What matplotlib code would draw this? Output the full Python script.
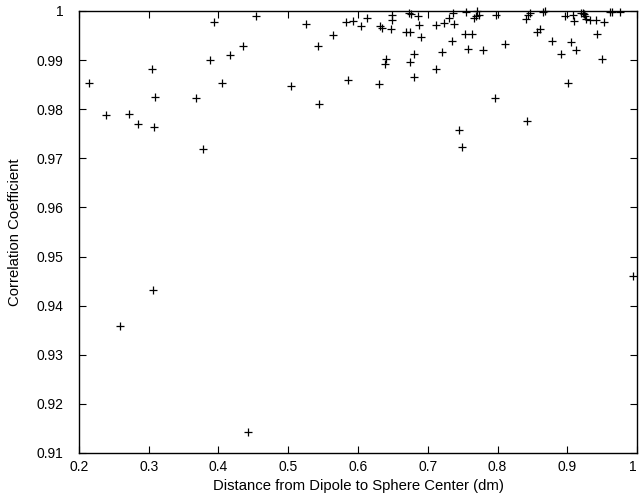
import matplotlib

matplotlib.use("Agg")

import matplotlib.pyplot as plt
from matplotlib.ticker import FormatStrFormatter, MultipleLocator

# distance from dipole to sphere center (dm)
distance = [
    0.2146, 0.2393, 0.2723, 0.2842, 0.3052, 0.3085, 0.3075, 0.3677, 0.3774, 0.3874,
    0.3931, 0.4046, 0.4171, 0.4357, 0.4541, 0.5257, 0.5427, 0.5642, 0.5035, 0.5850,
    0.5434, 0.5827, 0.5931, 0.6036, 0.6135, 0.6301, 0.6318, 0.6340, 0.6397, 0.6386,
    0.6483, 0.6493, 0.6476, 0.6688, 0.6746, 0.6736, 0.6758, 0.6803, 0.6748, 0.6801,
    0.6867, 0.6873, 0.6896, 0.7114, 0.7117, 0.7200, 0.7232, 0.7308, 0.7365, 0.7378,
    0.7341, 0.7554, 0.7534, 0.7633, 0.7577, 0.7663, 0.7695, 0.7713, 0.7733, 0.7792,
    0.7981, 0.8113, 0.7963, 0.7451, 0.7491, 0.8409, 0.8430, 0.8462, 0.8566, 0.8612,
    0.8423, 0.8652, 0.8677, 0.8777, 0.8906, 0.8963, 0.9060, 0.9088, 0.9093, 0.9121,
    0.9011, 0.9190, 0.9222, 0.9243, 0.9260, 0.9275, 0.9329, 0.9412, 0.9526, 0.9425,
    0.9497, 0.9609, 0.9644, 0.9752, 0.9943, 0.3061, 0.2594, 0.4423,
]

correlation = [
    0.98528, 0.97876, 0.97897, 0.97693, 0.98813, 0.98249, 0.97638, 0.98228, 0.97196, 0.98996,
    0.99776, 0.98534, 0.99098, 0.99281, 0.99892, 0.99735, 0.99287, 0.99501, 0.98473, 0.98599,
    0.98096, 0.99776, 0.99802, 0.99688, 0.99864, 0.98503, 0.99688, 0.99654, 0.99023, 0.98915,
    0.99807, 0.99919, 0.99629, 0.99562, 0.99576, 0.99953, 0.99929, 0.99120, 0.98968, 0.98652,
    0.99892, 0.99719, 0.99475, 0.98825, 0.99719, 0.99171, 0.99764, 0.99851, 0.99969, 0.99729,
    0.99379, 0.99980, 0.99526, 0.99526, 0.99236, 0.99851, 0.99898, 0.99996, 0.99925, 0.99202,
    0.99925, 0.99332, 0.98218, 0.97571, 0.97227, 0.99841, 0.99908, 0.99955, 0.99576, 0.99629,
    0.97756, 0.99980, 0.99990, 0.99389, 0.99124, 0.99892, 0.99373, 0.99925, 0.99796, 0.99212,
    0.98534, 0.99969, 0.99953, 0.99929, 0.99888, 0.99837, 0.99821, 0.99821, 0.99782, 0.99526,
    0.99023, 0.99976, 0.99980, 0.99980, 0.94610, 0.94313, 0.93580, 0.91421,
]

x_ticks = [0.2, 0.3, 0.4, 0.5, 0.6, 0.7, 0.8, 0.9, 1.0]

plt.rcParams["font.family"] = ["Liberation Sans", "DejaVu Sans"]

fig = plt.figure(figsize=(6.39, 4.99), dpi=100)
ax = fig.add_axes([0.1236, 0.0922, 0.8733, 0.8858])

ax.plot(distance, correlation, linestyle="none", marker="+", markersize=5.5,
        markeredgewidth=0.9, color="black", clip_on=False)

ax.set_xlim(0.2, 1.0)
ax.set_ylim(0.91, 1.0)
ax.set_xticks(x_ticks)
ax.yaxis.set_major_locator(MultipleLocator(0.01))
ax.xaxis.set_major_formatter(FormatStrFormatter("%g"))
ax.yaxis.set_major_formatter(FormatStrFormatter("%g"))

ax.tick_params(direction="in", length=5, width=0.8, top=True, right=True,
               labelsize=10)
ax.tick_params(axis="x", pad=5)
ax.tick_params(axis="y", pad=11)
for spine in ax.spines.values():
    spine.set_linewidth(1.0)

ax.set_xlabel("Distance from Dipole to Sphere Center (dm)", fontsize=10.7)
ax.set_ylabel("Correlation Coefficient", fontsize=10.7)
ax.xaxis.set_label_coords(0.5, -0.058)
ax.yaxis.set_label_coords(-0.102, 0.5)

# keep the last x label ("1") inside the canvas like the original
ax.get_xticklabels()[-1].set_horizontalalignment("right")

fig.savefig("out.png", dpi=100)
